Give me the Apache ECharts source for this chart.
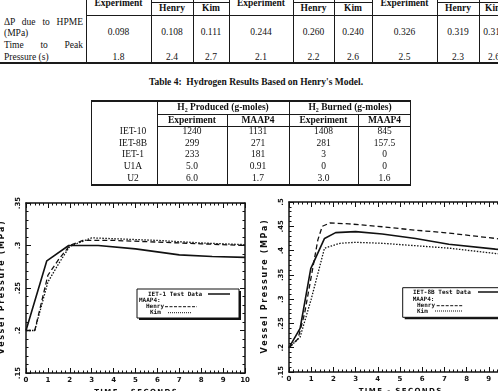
<!DOCTYPE html>
<html>
<head>
<meta charset="utf-8">
<script src="https://cdn.jsdelivr.net/npm/echarts@6/dist/echarts.min.js"></script>
<style>
html, body { margin: 0; padding: 0; width: 498px; height: 391px; overflow: hidden; background: #fff; }
#page { position: relative; width: 498px; height: 391px; overflow: hidden; font-family: "Liberation Serif", "DejaVu Serif", serif; color: #111; }
.t { position: absolute; white-space: nowrap; transform: translate(-50%, -50%); font-size: 9.5px; line-height: 1; }
.tl { position: absolute; white-space: nowrap; transform: translate(0, -50%); font-size: 9.5px; line-height: 1; }
.tj { position: absolute; transform: translate(0, -50%); font-size: 9.5px; line-height: 1; text-align: justify; text-align-last: justify; }
.b { font-weight: bold; }
.ln { position: absolute; background: #1a1a1a; }
#chartL { position: absolute; left: 0; top: 185px; width: 250px; height: 206px; }
#chartR { position: absolute; left: 250px; top: 185px; width: 280px; height: 206px; }
</style>
</head>
<body>
<div id="page">
  <div id="chartL"></div>
  <div id="chartR"></div>
</div>
<script>
// ---- table 3 (top, cut off) ----
var topHeads = ["Experiment", "Henry", "Kim", "Experiment", "Henry", "Kim", "Experiment", "Henry", "Kim"];
var hpmeDeltaP = ["0.098", "0.108", "0.111", "0.244", "0.260", "0.240", "0.326", "0.319", "0.310"];
var hpmePeakTime = ["1.8", "2.4", "2.7", "2.1", "2.2", "2.6", "2.5", "2.3", "2.6"];

// ---- table 4 ----
var h2Runs = ["IET-10", "IET-8B", "IET-1", "U1A", "U2"];
var h2ProducedExp = ["1240", "299", "233", "5.0", "6.0"];
var h2ProducedMaap = ["1131", "271", "181", "0.91", "1.7"];
var h2BurnedExp = ["1408", "281", "3", "0", "3.0"];
var h2BurnedMaap = ["845", "157.5", "0", "0", "1.6"];

// ---- IET-1 pressure curves [time s, MPa] ----
var iet1Test = [[0, 0.2], [0.95, 0.282], [1.95, 0.300], [3.3, 0.300], [5, 0.296], [7, 0.289], [8.5, 0.287], [10, 0.286]];
var iet1Henry = [[0, 0.2], [0.4, 0.2], [1, 0.265], [1.5, 0.284], [2, 0.300], [2.6, 0.306], [4, 0.306], [6, 0.304], [8, 0.302], [10, 0.300]];
var iet1Kim = [[0, 0.2], [0.4, 0.2], [1, 0.257], [1.5, 0.279], [2, 0.299], [3, 0.309], [4, 0.308], [6, 0.306], [8, 0.303], [10, 0.301]];

// ---- IET-8B pressure curves ----
var iet8bTest = [[0, 0.2], [0.5, 0.240], [0.98, 0.363], [1.6, 0.425], [2.1, 0.437], [3, 0.439], [4.2, 0.434], [5.7, 0.425], [7.2, 0.413], [9.3, 0.403], [10, 0.400]];
var iet8bHenry = [[0, 0.2], [0.4, 0.218], [0.7, 0.270], [1.3, 0.422], [1.5, 0.450], [1.85, 0.457], [2.7, 0.455], [4.2, 0.449], [5.7, 0.442], [7.2, 0.436], [9.3, 0.425], [10, 0.421]];
var iet8bKim = [[0, 0.2], [0.5, 0.222], [1, 0.300], [1.6, 0.405], [2.3, 0.415], [3, 0.417], [4.2, 0.415], [5.7, 0.410], [7.2, 0.405], [9.3, 0.394], [10, 0.391]];

var page = document.getElementById("page");

function txt(s, x, y, cls, extra) {
  var d = document.createElement("div");
  d.className = cls || "t";
  d.innerHTML = s;
  d.style.left = x + "px";
  d.style.top = y + "px";
  if (extra) for (var k in extra) d.style[k] = extra[k];
  page.appendChild(d);
  return d;
}
function hline(x1, x2, y, w) {
  var d = document.createElement("div");
  d.className = "ln";
  d.style.left = x1 + "px"; d.style.top = y + "px";
  d.style.width = (x2 - x1) + "px"; d.style.height = (w || 1) + "px";
  page.appendChild(d);
}
function vline(x, y1, y2, w) {
  var d = document.createElement("div");
  d.className = "ln";
  d.style.left = x + "px"; d.style.top = y1 + "px";
  d.style.width = (w || 1) + "px"; d.style.height = (y2 - y1) + "px";
  page.appendChild(d);
}

// table 3 layout
var topX = [118.5, 172, 211, 261, 313.5, 353, 404.5, 458, 494];
[86, 151, 193, 229, 293, 334, 372, 437, 479].forEach(function (x) { vline(x, 0, 63); });
hline(151, 229, 2); hline(293, 372, 2); hline(437, 498, 2);
hline(86, 498, 15);
hline(0, 498, 62, 2);
[190, 332.5, 478].forEach(function (x) { txt("MAAP4", x, -5, "t b"); });
for (var i = 0; i < topHeads.length; i++) {
  var exp = topHeads[i] === "Experiment";
  txt(topHeads[i], topX[i], exp ? 4 : 9, "t b");
  txt(hpmeDeltaP[i], topX[i], 33);
  txt(hpmePeakTime[i], topX[i], 58);
}
txt("&Delta;P due to HPME", 4, 23, "tj", {width: "79px"});
txt("(MPa)", 4, 34, "tl");
txt("Time to Peak", 4, 46, "tj", {width: "79px"});
txt("Pressure (s)", 4, 58, "tl");

// table 4 layout
txt("Table 4:&nbsp; Hydrogen Results Based on Henry's Model.", 256, 83, "t b");
hline(91, 411, 100, 2);
hline(157, 411, 114); hline(157, 411, 126);
hline(91, 411, 184, 2);
vline(91, 100, 186); vline(410, 100, 186);
vline(157, 100, 186); vline(289, 100, 186);
vline(227, 114, 186); vline(358, 114, 186);
txt("H<sub style='font-size:6px'>2</sub> Produced (g-moles)", 223, 108, "t b");
txt("H<sub style='font-size:6px'>2</sub> Burned (g-moles)", 350, 108, "t b");
txt("Experiment", 192, 120.5, "t b"); txt("MAAP4", 258, 120.5, "t b");
txt("Experiment", 323.5, 120.5, "t b"); txt("MAAP4", 384.5, 120.5, "t b");
var rowY = [132, 143.7, 155.3, 167, 178.7];
for (var r = 0; r < h2Runs.length; r++) {
  txt(h2Runs[r], 133, rowY[r]);
  txt(h2ProducedExp[r], 192, rowY[r]);
  txt(h2ProducedMaap[r], 258, rowY[r]);
  txt(h2BurnedExp[r], 323.5, rowY[r]);
  txt(h2BurnedMaap[r], 384.5, rowY[r]);
}

// ---- charts ----
var ink = "#111";
var chartFont = "DejaVu Sans";
function tickLabel(v) { return String(+v.toFixed(2)).replace(/^0/, ""); }
// the scanned plot titles are letter-spaced: put a thin space between letters
function spaced(s) { return s.split("").join("\u2009"); }

function frameAxis(pos, isX, yMin, yMax, showLabel, name) {
  var ax = {
    type: "value",
    position: pos,
    min: isX ? 0 : yMin,
    max: isX ? 10 : yMax,
    interval: isX ? 1 : 0.05,
    splitLine: {show: false},
    axisLine: {show: true, onZero: false, lineStyle: {color: ink, width: 1.5}},
    axisTick: {show: true, inside: true, length: 5, lineStyle: {color: ink, width: 1}},
    minorTick: {show: true, splitNumber: 5, length: 2.5, lineStyle: {color: ink, width: 1}},
    axisLabel: {show: showLabel, color: ink, fontFamily: chartFont, fontWeight: "bold", fontSize: 7, margin: 4,
      formatter: isX ? "{value}" : tickLabel, rotate: isX ? 0 : 90}
  };
  if (name) {
    ax.name = spaced(name);
    ax.nameLocation = "middle";
    ax.nameTextStyle = {color: ink, fontFamily: chartFont, fontWeight: "bold", fontSize: isX ? 7 : 8};
    ax.nameGap = isX ? 13 : 20;
    if (!isX) ax.nameRotate = 90;
  }
  return ax;
}

function legendGraphic(box, rows) {
  var g = [
    {type: "rect", shape: {x: box[0] + 2, y: box[1] + 2, width: box[2], height: box[3]}, style: {fill: ink}},
    {type: "rect", shape: {x: box[0], y: box[1], width: box[2], height: box[3]}, style: {fill: "#fff", stroke: ink, lineWidth: 1}}
  ];
  rows.forEach(function (r) {
    g.push({type: "text", x: r.x, y: r.y, style: {text: r.text, fill: ink, font: "bold 6px 'DejaVu Sans Mono'", textVerticalAlign: "middle"}});
    if (r.line) {
      g.push({type: "line", shape: {x1: r.line[0], y1: r.y, x2: r.line[1], y2: r.y},
        style: {stroke: ink, lineWidth: r.w || 1, lineDash: r.dash || null}});
    }
  });
  return g;
}

function lineSeries(data, dash, w) {
  return {
    type: "line", data: data, symbol: "none", smooth: false, z: 3,
    lineStyle: {color: ink, width: w, type: dash ? dash : "solid"}
  };
}

function renderPressureFn(id, grid, yMax, test, henry, kim, legend) {
  var myChart = echarts.init(document.getElementById(id));
  var option = {
    animation: false,
    grid: grid,
    xAxis: [frameAxis("bottom", true, 0, 0, true, "TIME - SECONDS"), frameAxis("top", true, 0, 0, false)],
    yAxis: [frameAxis("left", false, 0.15, yMax, true, "Vessel Pressure (MPa)"), frameAxis("right", false, 0.15, yMax, false)],
    series: [lineSeries(test, null, 1.6), lineSeries(henry, [5, 3], 1.3), lineSeries(kim, [1.5, 1.5], 1.3)],
    graphic: legend
  };
  myChart.setOption(option, true);
  return myChart;
}

renderPressureFn("chartL", {left: 26, top: 18, width: 219, height: 170, outerBoundsMode: "none"}, 0.35,
  iet1Test, iet1Henry, iet1Kim,
  legendGraphic([137, 104, 102, 29], [
    {text: "IET-1 Test Data", x: 148, y: 109, line: [208, 230], w: 1.5},
    {text: "MAAP4:", x: 139, y: 115},
    {text: "Henry", x: 146, y: 121.7, line: [165, 197], dash: [3, 1.5]},
    {text: "Kim", x: 150, y: 127.7, line: [168, 192], dash: [1, 1]}
  ]));

renderPressureFn("chartR", {left: 39, top: 17, width: 222, height: 170, outerBoundsMode: "none"}, 0.5,
  iet8bTest, iet8bHenry, iet8bKim,
  legendGraphic([152.7, 102.7, 120, 29.6], [
    {text: "IET-8B Test Data", x: 163, y: 107, line: [228, 262], w: 1.5},
    {text: "MAAP4:", x: 162.7, y: 114},
    {text: "Henry", x: 167, y: 120.7, line: [186.7, 213.3], dash: [3, 1.5]},
    {text: "Kim", x: 167, y: 126, line: [185, 213], dash: [1, 1]}
  ]));
</script>
</body>
</html>
